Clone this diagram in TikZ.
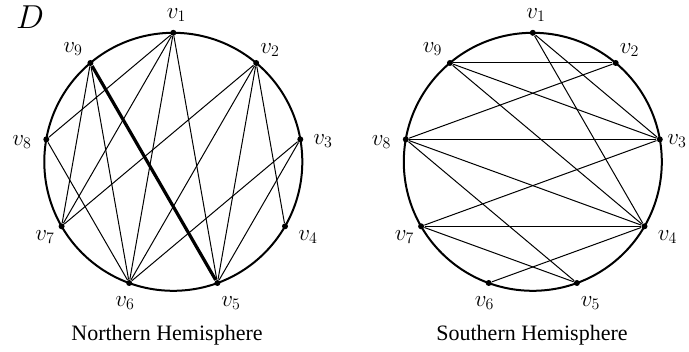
\documentclass[tikz,border=0pt]{standalone}
\usepackage{fontspec}
\newfontfamily\hemifont{Liberation Serif}
\tikzset{every picture/.style={line width=0.75pt}}
\tikzset{
  vtx/.style={circle,fill=black,inner sep=0pt,minimum size=4.5pt},
  vlab/.style={inner sep=0.75pt,font=\fontsize{17}{20}\selectfont},
  hemi/.style={inner sep=0.75pt,font=\hemifont\fontsize{16.5}{19}\selectfont},
  rim/.style={line width=1.5pt},
  heavy/.style={line width=2.4pt}
}
\begin{document}
\begin{tikzpicture}[x=0.75pt,y=0.75pt,yscale=-1,xscale=1]
\path[use as bounding box] (0,0) rectangle (689,352);

%Northern Hemisphere
\draw[rim] (173.3,161.8) circle (129);
\node[vtx] (n1) at (173.3,32.8) {};
\node[vtx] (n2) at (256.2,63) {};
\node[vtx] (n3) at (300.3,139.4) {};
\node[vtx] (n4) at (285,226.3) {};
\node[vtx] (n5) at (217.4,283) {};
\node[vtx] (n6) at (129.2,283) {};
\node[vtx] (n7) at (61.6,226.3) {};
\node[vtx] (n8) at (46.3,139.4) {};
\node[vtx] (n9) at (90.4,63) {};

\draw (n1) -- (n8);
\draw (n1) -- (n7);
\draw (n1) -- (n6);
\draw (n1) -- (n5);
\draw (n9) -- (n7);
\draw (n9) -- (n6);
\draw (n2) -- (n7);
\draw (n2) -- (n6);
\draw (n2) -- (n5);
\draw (n2) -- (n4);
\draw (n3) -- (n6);
\draw (n3) -- (n5);
\draw (n8) -- (n6);
\draw[heavy] (n9) -- (n5);

% Text Node
\node[vlab] (ln1) at (176.5,15) {$v_1$};
\node[vlab] (ln2) at (270,50) {$v_2$};
\node[vlab] (ln3) at (323,141) {$v_3$};
\node[vlab] (ln4) at (308,237) {$v_4$};
\node[vlab] (ln5) at (231,303) {$v_5$};
\node[vlab] (ln6) at (125,303) {$v_6$};
\node[vlab] (ln7) at (45,237) {$v_7$};
\node[vlab] (ln8) at (22,142) {$v_8$};
\node[vlab] (ln9) at (73,49) {$v_9$};
\node[inner sep=0.75pt,font=\fontsize{24}{28}\selectfont] (dlab) at (30,17) {$D$};
\node[hemi] (ntitle) at (167,335) {Northern Hemisphere};

%Southern Hemisphere
\draw[rim] (532.8,161.8) circle (129);
\node[vtx] (s1) at (532.8,32.8) {};
\node[vtx] (s2) at (615.7,63) {};
\node[vtx] (s3) at (659.8,139.4) {};
\node[vtx] (s4) at (644.5,226.3) {};
\node[vtx] (s5) at (576.9,283) {};
\node[vtx] (s6) at (488.7,283) {};
\node[vtx] (s7) at (421.1,226.3) {};
\node[vtx] (s8) at (405.8,139.4) {};
\node[vtx] (s9) at (449.9,63) {};

\draw (s1) -- (s3);
\draw (s1) -- (s4);
\draw (s9) -- (s2);
\draw (s9) -- (s3);
\draw (s9) -- (s4);
\draw (s2) -- (s8);
\draw (s8) -- (s3);
\draw (s8) -- (s4);
\draw (s8) -- (s5);
\draw (s7) -- (s3);
\draw (s7) -- (s4);
\draw (s7) -- (s5);
\draw (s6) -- (s4);

% Text Node
\node[vlab] (ls1) at (536,15) {$v_1$};
\node[vlab] (ls2) at (629.5,50) {$v_2$};
\node[vlab] (ls3) at (677,141) {$v_3$};
\node[vlab] (ls4) at (667.5,237) {$v_4$};
\node[vlab] (ls5) at (590.5,303) {$v_5$};
\node[vlab] (ls6) at (484.5,303) {$v_6$};
\node[vlab] (ls7) at (404.5,237) {$v_7$};
\node[vlab] (ls8) at (381.5,142) {$v_8$};
\node[vlab] (ls9) at (432.5,49) {$v_9$};
\node[hemi] (stitle) at (532,335) {Southern Hemisphere};
\end{tikzpicture}
\end{document}
